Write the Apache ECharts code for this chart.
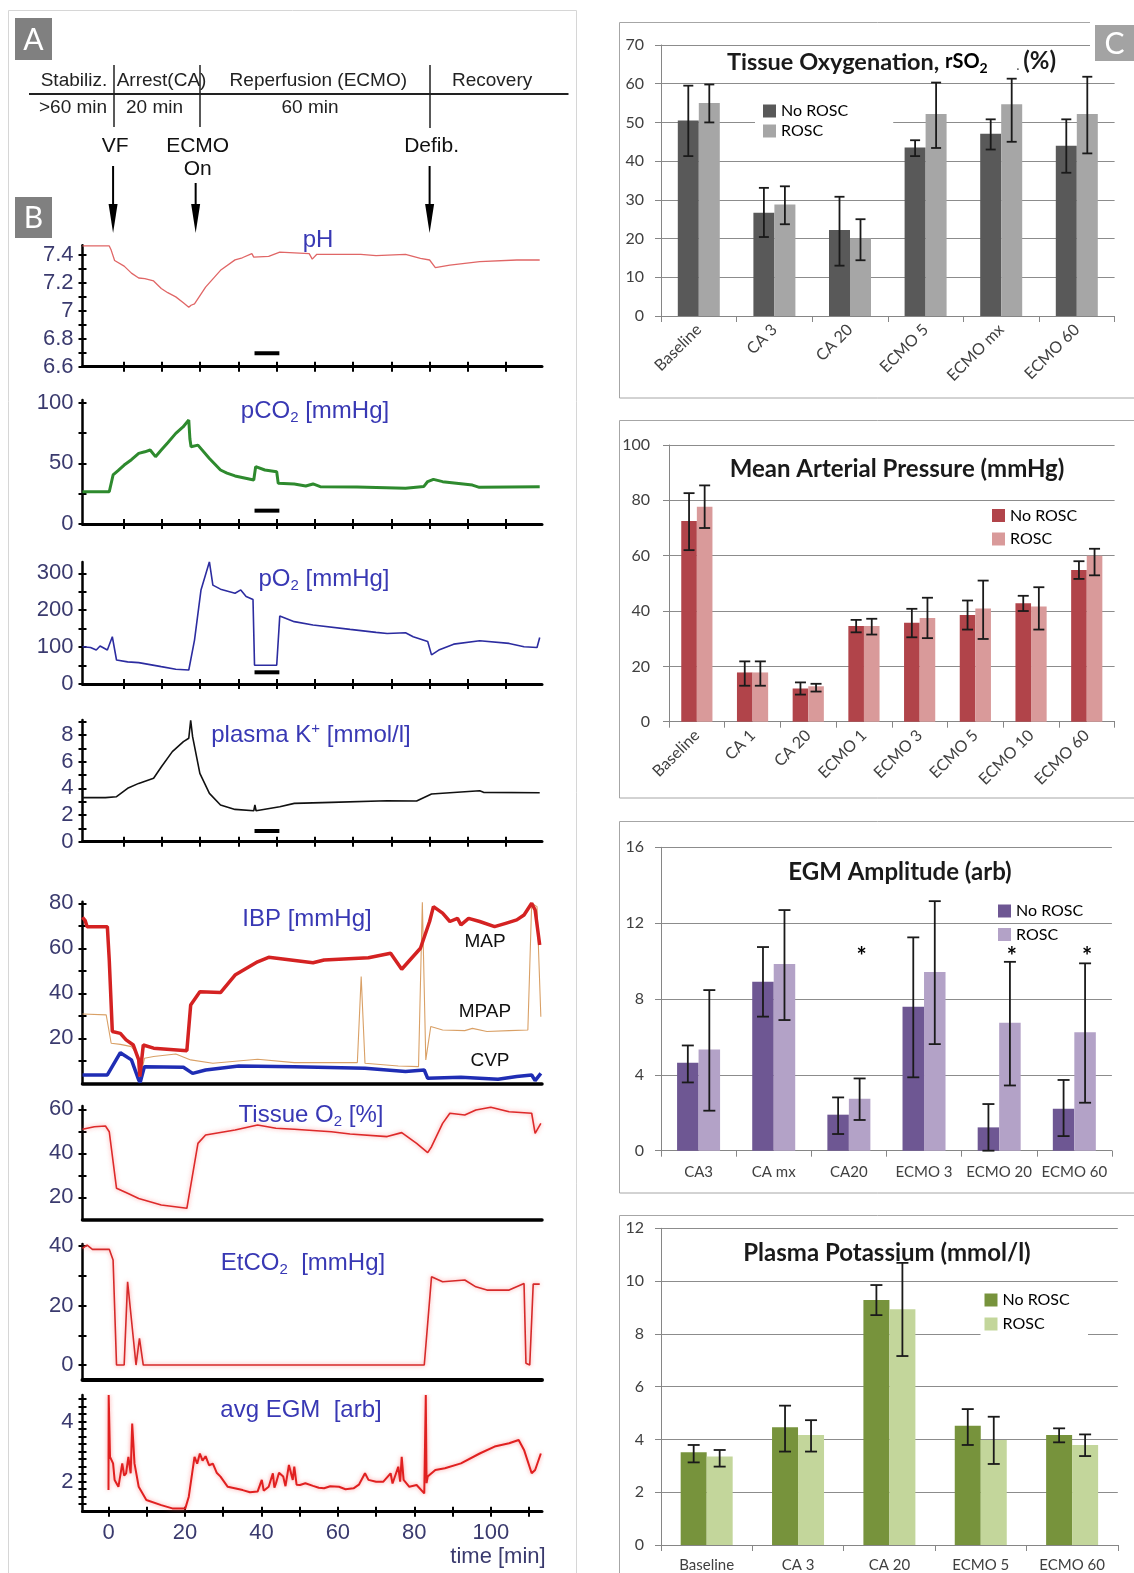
<!DOCTYPE html>
<html>
<head>
<meta charset="utf-8">
<title>ECMO resuscitation figure</title>
<script src="https://cdn.jsdelivr.net/npm/echarts@6.0.0/dist/echarts.min.js"></script>
<style>
html,body{margin:0;padding:0;background:#fff;}
#chart{width:1134px;height:1573px;}
</style>
</head>
<body>
<div id="chart"></div>
<script>
// ================= DATA : panel B time series  [time (min), value] =================
const phData = [[-6.8,7.465],[0.2,7.465],[0.7,7.435],[1.6,7.36],[4.1,7.32],[6,7.27],[7.9,7.235],[9.5,7.23],[11.8,7.214],[13.8,7.16],[15.5,7.13],[17.6,7.10],[19.5,7.06],[21.0,7.025],[21.6,7.04],[22.5,7.05],[25.4,7.17],[29.3,7.29],[33.1,7.365],[35,7.38],[37.5,7.41],[38,7.385],[41.9,7.39],[44.8,7.42],[52.5,7.41],[53.3,7.37],[54.5,7.405],[66,7.405],[70,7.395],[77.7,7.405],[81.6,7.376],[84,7.364],[85.5,7.31],[89.3,7.328],[97.1,7.352],[106.8,7.364],[112.8,7.364]];
const pco2Data = [[-6.8,26.6],[0.2,26.6],[1.2,40.4],[2.5,44],[4.1,48.6],[6,53],[7.9,58.2],[9.5,59.5],[10.9,61],[12.3,55.5],[13.8,61],[15.5,67],[17.6,74.7],[19.5,80],[21,85.7],[21.3,70],[21.6,63.7],[23.4,65],[26.4,54],[29.3,44.5],[31,42],[33.1,39.6],[38,36.3],[38.5,47.3],[40.9,44.5],[44,43.1],[44.4,33.5],[48.6,33],[51.6,31.3],[53.5,33],[55.4,30.8],[65,30.5],[77.7,29.4],[82.5,31],[83.5,35],[85,36.8],[87.4,34.9],[95.2,32.1],[97,30.2],[112.8,30.8]];
const po2Data = [[-6.8,101],[-4.7,99],[-3.2,92],[-2.2,103],[-0.3,92],[1,128],[2.1,65],[5,60],[7.9,58],[13.8,47],[17.6,40],[21,38],[22.5,119],[24.2,255],[26.4,331],[27.3,268],[29.3,257],[33.1,246],[34.6,255],[36,237],[37.8,229],[38.2,51],[44,51],[44.8,184],[48.6,169],[53.5,160],[63.2,148],[70,140],[72.9,137],[77.7,139],[79.7,128],[83.5,115],[84.5,79],[86.4,92],[90.3,108],[97.1,117],[104.8,110],[108.7,101],[112.1,99],[112.8,126]];
const kData = [[-6.8,3.3],[-0.8,3.3],[2.1,3.37],[5,4.0],[7.9,4.37],[11.8,4.75],[13.8,5.6],[16.7,6.75],[19.6,7.5],[21,7.75],[21.5,9.1],[22,7.87],[23.9,5.12],[26.4,3.62],[29.3,2.75],[33.1,2.42],[38,2.32],[38.3,2.75],[38.6,2.32],[44.8,2.62],[48.6,2.87],[58.3,2.95],[72.9,3.07],[80.6,3.05],[84.5,3.57],[89.3,3.67],[97.1,3.82],[98.1,3.7],[112.8,3.67]];
const mapData = [[-6.8,73.8],[-6.1,72.3],[-5.6,69.6],[-0.3,69.6],[0.2,54.8],[1,23],[3.1,22.2],[4.6,19.3],[6.5,17],[7.9,10.4],[8.2,3],[9.1,17],[11.8,15.6],[20.5,14.5],[21.5,34.8],[23.9,40.7],[29.3,40.3],[33.1,48.1],[39,54],[41.9,56],[53.5,53.6],[56.4,54.8],[68,55.8],[73.8,57.8],[76.7,50.7],[81.6,60],[84,71.9],[85,78.5],[87.4,75.6],[89.3,71.9],[91.3,73.3],[92.2,70.4],[94.2,73.3],[97.1,71.9],[101,69.6],[103.9,71.1],[106.8,72.6],[108.7,74.8],[110.7,80],[111.6,77],[112.8,61.5]];
const mpapData = [[-6.8,30.8],[-0.6,30.4],[0.7,17.8],[3.1,17.3],[6,16.3],[7.9,11.9],[8.4,3],[9.4,11.1],[11.8,11.9],[17.6,13],[21.5,10.4],[27.3,8.9],[39,10.7],[48.6,9.2],[65.1,9.2],[66.1,47.4],[67.1,8.9],[75.8,7.7],[81.1,7.4],[82.1,80.5],[83,10.4],[84.3,25.2],[87.4,23.7],[93.2,23.4],[95.2,24.4],[99,23],[104.8,23.4],[109.7,23.7],[110.7,80],[112.1,78.5],[113.1,29.6]];
const cvpData = [[-6.8,3.7],[-0.3,3.7],[3.1,13.6],[6,10.4],[7.9,1.5],[8.3,0.5],[9.4,7.4],[19.6,7.1],[22,4.4],[25.4,5.9],[34.1,7.7],[48.6,7.4],[67.1,6.7],[77.7,5.2],[82.6,5.9],[83.5,2.2],[92.2,2.7],[101.9,1.8],[106.8,3],[110.7,3.7],[111.6,1.2],[113.1,4.4]];
const tissueData = [[-6.8,50.9],[-3.7,52.1],[-0.8,52.4],[0.2,49.8],[2.1,24.1],[5,21.8],[7.9,19.5],[13.8,16.5],[20.5,15],[23.4,44.5],[25.4,48.3],[33.1,50.6],[39,52.9],[43.8,51.4],[48.6,50.9],[58.3,49.8],[63.2,48.8],[72.9,47.6],[76.7,49.4],[80.6,44.5],[83.5,40.3],[84.5,43],[87.4,53.6],[89.3,58.2],[93.2,57.4],[96.1,59.7],[100,60.9],[104.8,58.9],[110.7,58.2],[111.6,49.1],[113.1,53.6]];
const etco2Data = [[-6.8,39.2],[-5.6,40.3],[-4.2,38.9],[0.2,38.9],[1.2,35.3],[2.1,0],[4.1,0],[5,28],[7.2,0],[8.1,9],[9.1,0],[82.6,0],[84.5,29.7],[87.4,28],[93.2,28.6],[96.1,26.3],[99,25.2],[104.8,25.2],[108.7,27.4],[109.2,0.6],[110.2,0],[111.1,27.2],[112.8,27.2]];
const egmData = [[0,1.72],[0.05,4.89],[0.4,2.83],[1.2,2.61],[1.6,2.06],[2.6,1.83],[3.6,2.61],[4.1,2.2],[4.6,2.28],[5.2,2.83],[5.8,2.28],[6.2,3.94],[6.8,2.61],[7.9,1.83],[9.9,1.39],[13.8,1.22],[16.7,1.11],[20.1,1.11],[21,1.5],[22.5,2.83],[23.2,2.6],[23.9,2.94],[24.6,2.7],[25.4,2.85],[26.3,2.55],[27.3,2.6],[28.3,2.3],[29.3,2.17],[31.2,1.83],[33,1.78],[35.1,1.72],[37,1.65],[39,1.67],[40.1,2.06],[40.6,1.7],[41.9,1.83],[43,2.28],[43.4,1.8],[43.8,1.94],[44.6,2.3],[45.7,2.17],[46.3,1.85],[47.2,2.56],[48.2,2.06],[48.6,2.5],[49.2,1.9],[50.1,1.89],[51.5,1.95],[53.5,1.86],[55,1.8],[56.4,1.78],[58,1.85],[60.3,1.83],[62,1.75],[64.1,1.78],[65.5,1.9],[67.1,2.28],[68,2.06],[70,2.0],[71.9,2.0],[73.8,2.28],[74.3,1.94],[75.8,2.5],[76.3,2.0],[76.7,2.83],[77.2,2.06],[78.7,1.83],[80.6,1.89],[82.6,1.61],[83.0,4.89],[83.2,1.95],[83.5,2.17],[85.5,2.39],[88,2.45],[92.2,2.61],[97.1,2.94],[101,3.17],[104.8,3.28],[107.3,3.39],[108.7,3.06],[110.7,2.28],[111.6,2.39],[113.1,2.94]];
// sampling-window markers (black bars)
const phMark = [[38.2,6.697],[44.7,6.697]];
const pco2Mark = [[38.2,11],[44.7,11]];
const po2Mark = [[38.2,31.7],[44.7,31.7]];
const kMark = [[38.2,0.8],[44.7,0.8]];
// protocol events (min)
const eventNames = [['VF'], ['ECMO','On'], ['Defib.']];
const eventTimes = [1.2, 22.8, 84];
// timeline text
const phaseNames = ['Stabiliz.','Arrest(CA)','Reperfusion (ECMO)','Recovery'];
const phaseDurations = ['>60 min','20 min','60 min'];

// tick / label values
const upperTicks = [4,14,24,34,44,54,64,74,84,94,104];
const lowerTicks = [0,10,20,30,40,50,60,70,80,90,100,110];
const timeLabels = [0,20,40,60,80,100];
const phLabels = [6.6,6.8,7,7.2,7.4], phTicks = [6.6,6.7,6.8,6.9,7,7.1,7.2,7.3,7.4];
const pco2Labels = [0,50,100], pco2Ticks = [0,25,50,75,100];
const po2Labels = [0,100,200,300], po2Ticks = [0,50,100,150,200,250,300];
const kLabels = [0,2,4,6,8], kTicks = [0,1,2,3,4,5,6,7,8,9];
const ibpLabels = [20,40,60,80], ibpTicks = [10,20,30,40,50,60,70,80];
const tisLabels = [20,40,60], tisTicks = [20,30,40,50,60];
const etLabels = [0,20,40], etTicks = [0,10,20,30,40];
const egmLabels = [2,4], egmTicks = [1.25,1.5,1.75,2,2.25,2.5,2.75,3,3.25,3.5,3.75,4,4.25,4.5,4.75];

// ================= DATA : panel C bar charts =================
const c1Cats = ['Baseline','CA 3','CA 20','ECMO 5','ECMO mx','ECMO 60'];
const c1No = [50.5, 26.7, 22.2, 43.5, 47.1, 44];
const c1NoErr = [[41.3,59.5],[20.4,33.1],[13,30.8],[41.3,45.4],[43,50.8],[37,50.8]];
const c1Ro = [55, 28.8, 20, 52.2, 54.7, 52.2];
const c1RoErr = [[50,59.8],[23.7,33.5],[14.4,25],[43.4,60.3],[45,61.3],[42,61.8]];

const c2Cats = ['Baseline','CA 1','CA 20','ECMO 1','ECMO 3','ECMO 5','ECMO 10','ECMO 60'];
const c2No = [72.5, 17.8, 12, 34.6, 35.8, 38.6, 42.8, 54.8];
const c2NoErr = [[62,82.6],[13,21.8],[9.8,14.2],[32.3,36.8],[30.5,40.8],[33.3,43.8],[40,45.5],[51.6,58]];
const c2Ro = [77.7, 17.8, 12.8, 34.6, 37.5, 40.9, 41.6, 60];
const c2RoErr = [[70,85.4],[13,21.8],[10.9,13.7],[31.5,37.2],[30.2,44.8],[29.9,51],[33.3,48.6],[52.9,62.5]];

const c3Cats = ['CA3','CA mx','CA20','ECMO 3','ECMO 20','ECMO 60'];
const c3No = [4.64, 8.91, 1.9, 7.59, 1.23, 2.21];
const c3NoErr = [[3.6,5.55],[7.07,10.74],[0.88,2.81],[3.87,11.25],[0,2.46],[0.77,3.73]];
const c3Ro = [5.34, 9.84, 2.74, 9.42, 6.75, 6.24];
const c3RoErr = [[2.11,8.47],[6.89,12.69],[1.62,3.81],[5.62,13.16],[3.44,9.96],[2.53,9.88]];
const c3Stars = [null, null, 10.2, null, 10.2, 10.2];

const c4Cats = ['Baseline','CA 3','CA 20','ECMO 5','ECMO 60'];
const c4No = [3.51, 4.46, 9.28, 4.52, 4.17];
const c4NoErr = [[3.13,3.79],[3.54,5.28],[8.71,9.85],[3.79,5.15],[3.89,4.42]];
const c4Ro = [3.35, 4.17, 8.93, 3.98, 3.79];
const c4RoErr = [[2.97,3.6],[3.54,4.73],[7.16,10.69],[3.07,4.86],[3.37,4.19]];

// ================= build chart =================
const FN = "'Liberation Sans', Arial, sans-serif";
const FC = "Lato, 'Open Sans', sans-serif";
const NAVY = '#3a3a6e';
const TBLUE = '#3838b4';
const L = {left: 82.5, width: 459.5, tmin: -6.8, tmax: 113.4};

const grids = [], xAxes = [], yAxes = [], series = [], legends = [];

const panels = [
  {top:245.2, bottom:366.7, min:6.6, max:7.47, labels:phLabels, ticks:phTicks, xTicks:upperTicks, xw:3,
    lines:[{data:phData, color:'#e06666', width:1.3}], mark:phMark},
  {top:400, bottom:524, min:0, max:102.2, labels:pco2Labels, ticks:pco2Ticks, xTicks:upperTicks, xw:3,
    lines:[{data:pco2Data, color:'#2e8a2e', width:3}], mark:pco2Mark},
  {top:562, bottom:684, min:0, max:330.6, labels:po2Labels, ticks:po2Ticks, xTicks:upperTicks, xw:3,
    lines:[{data:po2Data, color:'#2c2ca0', width:1.6}], mark:po2Mark},
  {top:720, bottom:841.7, min:0, max:9.12, labels:kLabels, ticks:kTicks, xTicks:upperTicks, xw:3,
    lines:[{data:kData, color:'#111111', width:1.6}], mark:kMark},
  {top:901.7, bottom:1083.3, min:0, max:80.7, labels:ibpLabels, ticks:ibpTicks, xw:3.5,
    lines:[{data:mpapData, color:'#d9a066', width:1.1},
           {data:cvpData, color:'#1f2db4', width:3.5},
           {data:mapData, color:'#d42222', width:3.5}]},
  {top:1106, bottom:1219.3, min:10, max:61.5, labels:tisLabels, ticks:tisTicks, xw:3.5,
    lines:[{data:tissueData, color:'#dd2a2a', width:1.6, glow:'rgba(255,110,110,0.7)'}]},
  {top:1244, bottom:1379.9, min:-5, max:40.7, labels:etLabels, ticks:etTicks, xw:4,
    lines:[{data:etco2Data, color:'#d62a2a', width:1.6, glow:'rgba(255,110,110,0.7)'}]},
  {top:1395, bottom:1511.7, min:1, max:4.89, labels:egmLabels, ticks:egmTicks, xTicks:lowerTicks, xLabels:timeLabels, xw:3,
    lines:[{data:egmData, color:'#e02020', width:2, glow:'rgba(255,110,110,0.7)'}]}
];

panels.forEach(p => {
  const gi = grids.length;
  grids.push({left:L.left, top:p.top, width:L.width, height:p.bottom - p.top, containLabel:false, outerBoundsMode:'none'});
  const xi = xAxes.length;
  const xc = {type:'value', gridIndex:gi, min:L.tmin, max:L.tmax, position:'bottom', splitLine:{show:false}};
  xAxes.push(Object.assign({}, xc, {
    axisLine:{show:true, onZero:false, lineStyle:{color:'#000', width:p.xw}},
    axisTick: p.xTicks ? {show:true, length:5, lineStyle:{color:'#000', width:2}, customValues:p.xTicks} : {show:false},
    axisLabel: p.xLabels ? {show:true, customValues:p.xLabels, fontSize:22, fontFamily:FN, color:NAVY, margin:10} : {show:false}
  }));
  if (p.xTicks) {
    xAxes.push(Object.assign({}, xc, {axisLine:{show:false, onZero:false},
      axisTick:{show:true, inside:true, length:5, lineStyle:{color:'#000', width:2}, customValues:p.xTicks},
      axisLabel:{show:false}}));
  }
  const yi = yAxes.length;
  const yc = {type:'value', gridIndex:gi, min:p.min, max:p.max, position:'left', splitLine:{show:false}};
  yAxes.push(Object.assign({}, yc, {
    axisLine:{show:true, onZero:false, lineStyle:{color:'#000', width:2.5}},
    axisTick:{show:true, length:4, lineStyle:{color:'#000', width:2}, customValues:p.ticks},
    axisLabel:{show:true, customValues:p.labels, fontSize:22, fontFamily:FN, color:NAVY, margin:9}
  }));
  yAxes.push(Object.assign({}, yc, {
    axisLine:{show:false, onZero:false},
    axisTick:{show:true, inside:true, length:4, lineStyle:{color:'#000', width:2}, customValues:p.ticks},
    axisLabel:{show:false}
  }));
  p.lines.forEach(l => {
    series.push({type:'line', xAxisIndex:xi, yAxisIndex:yi, data:l.data, symbol:'none', showSymbol:false,
      silent:true, z:3,
      lineStyle:{color:l.color, width:l.width, shadowBlur:l.glow ? 4 : 0, shadowColor:l.glow || 'rgba(0,0,0,0)'}});
  });
  if (p.mark) {
    series.push({type:'line', xAxisIndex:xi, yAxisIndex:yi, data:p.mark, symbol:'none', silent:true, z:4,
      lineStyle:{color:'#000', width:4}});
  }
});

function errSeries(xi, yi, err, offset, cap, stars) {
  return {
    type:'custom', xAxisIndex:xi, yAxisIndex:yi, z:5, silent:true,
    encode:{x:0, y:[1,2]},
    data: err.map((e, i) => [i, e[0], e[1]]),
    renderItem: function (params, api) {
      const i = api.value(0);
      const lo = api.coord([i, api.value(1)]);
      const hi = api.coord([i, api.value(2)]);
      const x = lo[0] + offset;
      const st = {stroke:'#1a1a1a', lineWidth:1.8};
      const ch = [
        {type:'line', shape:{x1:x, y1:lo[1], x2:x, y2:hi[1]}, style:st},
        {type:'line', shape:{x1:x - cap, y1:lo[1], x2:x + cap, y2:lo[1]}, style:st},
        {type:'line', shape:{x1:x - cap, y1:hi[1], x2:x + cap, y2:hi[1]}, style:st}
      ];
      if (stars && stars[i] != null) {
        const sp = api.coord([i, stars[i]]);
        ch.push({type:'text', style:{text:'*', x:x + 2, y:sp[1], align:'center', verticalAlign:'middle',
          textAlign:'center', textVerticalAlign:'middle', font:'bold 24px ' + FC, fill:'#000'}});
      }
      return {type:'group', children:ch};
    }
  };
}

const barCharts = [
  {left:661, top:45, width:453.6, height:271, max:70, interval:10, cats:c1Cats, no:c1No, noErr:c1NoErr, ro:c1Ro, roErr:c1RoErr,
    cols:['#595959','#a6a6a6'], bw:21, cap:5, rot:45, xfs:16, xm:11, ym:17, sfx:'',
    legend:{left:755, top:97, itemGap:4, bg:'#fff', padding:[6,45,6,8]}},
  {left:669, top:445, width:445.6, height:276.7, max:100, interval:20, cats:c2Cats, no:c2No, noErr:c2NoErr, ro:c2Ro, roErr:c2RoErr,
    cols:['#b1444a','#d99a9a'], bw:15.6, cap:5.5, rot:45, xfs:16, xm:11, ym:19, sfx:' ',
    legend:{left:992, top:507.5, itemGap:7.5, bg:'transparent', padding:0}},
  {left:661, top:847.3, width:450.9, height:303.4, max:16, interval:4, cats:c3Cats, no:c3No, noErr:c3NoErr, ro:c3Ro, roErr:c3RoErr,
    cols:['#6e5793','#b3a2c7'], bw:21.5, cap:6, rot:0, xfs:15, xm:14, ym:17, sfx:'  ', stars:c3Stars,
    legend:{left:998, top:903, itemGap:7.5, bg:'transparent', padding:0}},
  {left:661, top:1228.3, width:456.8, height:316.7, max:12, interval:2, cats:c4Cats, no:c4No, noErr:c4NoErr, ro:c4Ro, roErr:c4RoErr,
    cols:['#77933c','#c3d69b'], bw:26, cap:6, rot:0, xfs:15, xm:13, ym:17, sfx:'   ',
    legend:{left:980.5, top:1290, itemGap:8, bg:'#fff', padding:[2,6,4,4]}}
];

barCharts.forEach(c => {
  const gi = grids.length;
  grids.push({left:c.left, top:c.top, width:c.width, height:c.height, containLabel:false, outerBoundsMode:'none'});
  const xi = xAxes.length;
  xAxes.push({type:'category', gridIndex:gi, data:c.cats, position:'bottom',
    axisLine:{show:true, onZero:false, lineStyle:{color:'#868686', width:1}},
    axisTick:{show:true, length:6, lineStyle:{color:'#868686'}},
    axisLabel:{show:true, interval:0, rotate:c.rot, fontSize:c.xfs, fontFamily:FC, color:'#404040', margin:c.xm},
    splitLine:{show:false}});
  const yi = yAxes.length;
  yAxes.push({type:'value', gridIndex:gi, min:0, max:c.max, interval:c.interval, position:'left',
    axisLine:{show:true, onZero:false, lineStyle:{color:'#868686', width:1}},
    axisTick:{show:true, length:6, lineStyle:{color:'#868686'}},
    axisLabel:{show:true, fontSize:16, fontFamily:FC, color:'#404040', margin:c.ym},
    splitLine:{show:true, lineStyle:{color:'#8c8c8c', width:1}}});
  const n1 = 'No ROSC' + c.sfx, n2 = 'ROSC' + c.sfx;
  series.push({type:'bar', name:n1, xAxisIndex:xi, yAxisIndex:yi, data:c.no, barWidth:c.bw, barGap:'0%', silent:true, z:2,
    itemStyle:{color:c.cols[0]}});
  series.push({type:'bar', name:n2, xAxisIndex:xi, yAxisIndex:yi, data:c.ro, barWidth:c.bw, barGap:'0%', silent:true, z:2,
    itemStyle:{color:c.cols[1]}});
  series.push(errSeries(xi, yi, c.noErr, -c.bw / 2, c.cap, null));
  series.push(errSeries(xi, yi, c.roErr, c.bw / 2, c.cap, c.stars));
  legends.push({data:[{name:n1, itemStyle:{color:c.cols[0]}}, {name:n2, itemStyle:{color:c.cols[1]}}],
    orient:'vertical', left:c.legend.left, top:c.legend.top, itemWidth:13, itemHeight:13, itemGap:c.legend.itemGap,
    icon:'rect', backgroundColor:c.legend.bg, padding:c.legend.padding, selectedMode:false,
    textStyle:{fontSize:16, fontFamily:FC, color:'#000', lineHeight:16}});
});

const chart = echarts.init(document.getElementById('chart'), null, {renderer:'canvas', width:1134, height:1573});
chart.setOption({
  animation:false,
  backgroundColor:'#ffffff',
  grid:grids, xAxis:xAxes, yAxis:yAxes, series:series, legend:legends
});

// ================= annotations =================
const g = [];
function rect(x, y, w, h, style, z) { g.push({type:'rect', shape:{x, y, width:w, height:h}, style, z:z || 0, silent:true}); }
function line(x1, y1, x2, y2, stroke, w, z) { g.push({type:'line', shape:{x1, y1, x2, y2}, style:{stroke, lineWidth:w}, z:z || 50, silent:true}); }
function txt(x, y, text, font, fill, align, z) {
  g.push({type:'text', z:z || 60, silent:true,
    style:{text, x, y, font, fill, align:align || 'center', verticalAlign:'middle', textAlign:align || 'center', textVerticalAlign:'middle'}});
}
function rich(x, y, text, richStyles, align, z) {
  g.push({type:'text', z:z || 60, silent:true,
    style:{text, x, y, rich:richStyles, align:align || 'center', verticalAlign:'middle', textAlign:align || 'center', textVerticalAlign:'middle'}});
}
function label(x, y, w, h, letter, col) {
  rect(x, y, w, h, {fill:col || '#808080'}, 90);
  txt(x + w / 2, y + h / 2 + 1, letter, '30px ' + FC, '#ffffff', 'center', 91);
}

// frames
rect(8.5, 10.5, 568, 1600, {fill:'none', stroke:'#d6d6d6', lineWidth:1}, 0);
rect(619.5, 22.5, 600, 375.5, {fill:'none', stroke:'#a6a6a6', lineWidth:1}, 0);
rect(619.5, 420.5, 600, 377.5, {fill:'none', stroke:'#a6a6a6', lineWidth:1}, 0);
rect(619.5, 821.5, 600, 371.5, {fill:'none', stroke:'#a6a6a6', lineWidth:1}, 0);
rect(619.5, 1215.5, 600, 400, {fill:'none', stroke:'#a6a6a6', lineWidth:1}, 0);
rect(1090, 14, 44, 56, {fill:'#ffffff'}, 89);
label(15, 18, 37, 42, 'A');
label(15, 197, 37, 41, 'B');
label(1095, 25, 39, 36, 'C', '#a3a3a3');

// timeline (panel A)
const TL = '19px ' + FN;
line(29, 94, 568.5, 94, '#222', 2);
line(114, 65, 114, 127, '#222', 1.5);
line(200, 65, 200, 127, '#222', 1.5);
line(430, 65, 430, 128, '#222', 1.5);
[40.7, 116.7, 229.6, 452].forEach((x, i) => txt(x, 81, phaseNames[i], TL, '#222', 'left'));
[39, 126, 281.5].forEach((x, i) => txt(x, 108, phaseDurations[i], TL, '#222', 'left'));

// event arrows
eventTimes.forEach((t, i) => {
  const x = chart.convertToPixel({xAxisIndex:0}, t);
  const names = eventNames[i];
  names.forEach((n, k) => txt(x + 2, 146 + k * 23, n, '21px ' + FN, '#111', 'center'));
  const yTop = names.length > 1 ? 183 : 166;
  line(x, yTop, x, 210, '#000', 2);
  g.push({type:'polygon', shape:{points:[[x - 4.5, 204], [x + 4.5, 204], [x, 233]]}, style:{fill:'#000'}, z:50, silent:true});
});

// panel titles (B)
function subRich(color, fs) {
  return {
    n:{fontSize:fs, fontFamily:FN, fill:color, lineHeight:fs + 4},
    s:{fontSize:Math.round(fs * 0.62), fontFamily:FN, fill:color, lineHeight:Math.round(fs * 0.62), padding:[fs * 0.55, 0, 0, 0]},
    u:{fontSize:Math.round(fs * 0.62), fontFamily:FN, fill:color, lineHeight:Math.round(fs * 0.62), padding:[0, 0, fs * 0.55, 0]}
  };
}
const RB = subRich(TBLUE, 24);
rich(318, 240, '{n|pH}', RB);
rich(315, 411, '{n|pCO}{s|2}{n| [mmHg]}', RB);
rich(324, 579, '{n|pO}{s|2}{n| [mmHg]}', RB);
rich(311, 735, '{n|plasma K}{u|+}{n| [mmol/l]}', RB);
rich(307, 919, '{n|IBP [mmHg]}', RB);
rich(311, 1115, '{n|Tissue O}{s|2}{n| [%]}', RB);
rich(303, 1263, '{n|EtCO}{s|2}{n|  [mmHg]}', RB);
rich(301, 1410, '{n|avg EGM  [arb]}', RB);
txt(485, 942, 'MAP', '19px ' + FN, '#111');
txt(485, 1012, 'MPAP', '19px ' + FN, '#111');
txt(490, 1061, 'CVP', '19px ' + FN, '#111');
txt(498, 1557, 'time [min]', '22px ' + FN, NAVY);

// panel C titles
const TF = 'bold 24px ' + FC;
rich(727, 62, '{b|Tissue Oxygenation, }{r|rSO}{s|2}', {
  b:{fontSize:23.5, fontWeight:'bold', fontFamily:FC, fill:'#1a1a1a', lineHeight:28},
  r:{fontSize:20, fontWeight:'bold', fontFamily:FC, fill:'#000', lineHeight:28},
  s:{fontSize:14, fontWeight:'bold', fontFamily:FC, fill:'#000', lineHeight:14, padding:[12, 0, 0, 0]}
}, 'left');
txt(1018, 65, '.', '14px ' + FC, '#555', 'center');
txt(1056, 61, '(%)', TF, '#1a1a1a', 'right');
txt(897, 469, 'Mean Arterial Pressure (mmHg)', TF, '#1a1a1a');
txt(900, 872, 'EGM Amplitude (arb)', TF, '#1a1a1a');
txt(887, 1253, 'Plasma Potassium (mmol/l)', TF, '#1a1a1a');

chart.setOption({graphic:{elements:g}});
</script>
</body>
</html>
